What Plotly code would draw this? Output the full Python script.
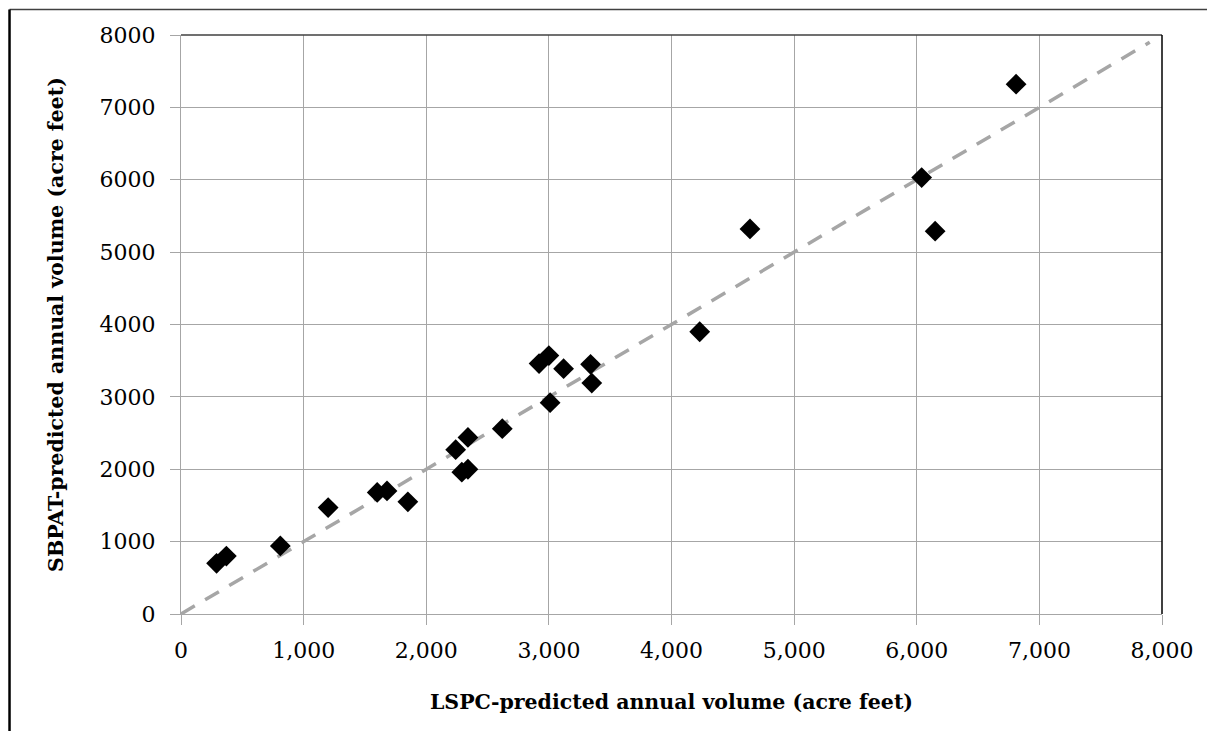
import plotly.graph_objects as go

# LSPC-predicted (x) and SBPAT-predicted (y) annual volume, acre feet
lspc = [290, 370, 810, 1200, 1600, 1680, 1850, 2240, 2290, 2340, 2340,
        2620, 2920, 3000, 3010, 3120, 3340, 3350, 4230, 4640, 6040, 6150, 6810]
sbpat = [700, 800, 940, 1470, 1680, 1700, 1550, 2270, 1960, 2000, 2440,
         2560, 3460, 3570, 2920, 3390, 3450, 3190, 3900, 5320, 6030, 5290, 7320]

# 1:1 reference line
ref_x = [0, 7900]
ref_y = [0, 7900]

x_ticks = [0, 1000, 2000, 3000, 4000, 5000, 6000, 7000, 8000]
x_tick_labels = ["0", "1,000", "2,000", "3,000", "4,000", "5,000", "6,000", "7,000", "8,000"]
y_ticks = [0, 1000, 2000, 3000, 4000, 5000, 6000, 7000, 8000]
y_tick_labels = ["0", "1000", "2000", "3000", "4000", "5000", "6000", "7000", "8000"]

x_title = "LSPC-predicted annual volume (acre feet)"
y_title = "SBPAT-predicted annual volume (acre feet)"

FONT = "DejaVu Serif"
GRID = "#A6A6A6"

fig = go.Figure()
fig.add_trace(go.Scatter(
    x=ref_x, y=ref_y, mode="lines",
    line=dict(color="#A6A6A6", width=3.5, dash="16px,12px"),
    hoverinfo="skip", showlegend=False,
))
fig.add_trace(go.Scatter(
    x=lspc, y=sbpat, mode="markers",
    marker=dict(symbol="diamond", size=16, color="black",
                line=dict(width=0)),
    showlegend=False,
))

# page body has an 8px margin; compensate so the plot lands where the reference has it
fig.update_layout(
    width=1207, height=723,
    margin=dict(l=173, r=53, t=27, b=117),
    paper_bgcolor="white", plot_bgcolor="white",
    font=dict(family=FONT, color="black", size=22),
    xaxis=dict(
        range=[0, 8000], tickvals=x_ticks, ticktext=x_tick_labels,
        showgrid=True, gridcolor=GRID, gridwidth=1,
        showline=True, linecolor=GRID, linewidth=1,
        ticks="outside", ticklen=10, tickcolor=GRID,
        zeroline=False, ticklabelstandoff=7,
        title=dict(text="<b>" + x_title + "</b>", font=dict(size=20.5), standoff=32),
    ),
    yaxis=dict(
        range=[0, 8000], tickvals=y_ticks, ticktext=y_tick_labels,
        showgrid=True, gridcolor=GRID, gridwidth=1,
        showline=True, linecolor=GRID, linewidth=1,
        ticks="outside", ticklen=10, tickcolor=GRID,
        zeroline=False, ticklabelstandoff=10,
        title=dict(text="<b>" + y_title + "</b>", font=dict(size=20.5), standoff=30),
    ),
    shapes=[
        # plot-area top and right borders (dark)
        dict(type="line", xref="paper", yref="paper", x0=0, x1=1, y0=1, y1=1,
             line=dict(color="#404040", width=1.5)),
        dict(type="line", xref="paper", yref="paper", x0=1, x1=1, y0=0, y1=1,
             line=dict(color="black", width=1.5)),
        # outer frame (top and left)
        dict(type="line", xref="paper", yref="paper", x0=-0.1748, x1=1.06,
             y0=1.0440, y1=1.0440, line=dict(color="#404040", width=1.5)),
        dict(type="line", xref="paper", yref="paper", x0=-0.1748, x1=-0.1748,
             y0=-0.21, y1=1.0440, line=dict(color="black", width=2.5)),
    ],
)

fig.write_html("out.html")
